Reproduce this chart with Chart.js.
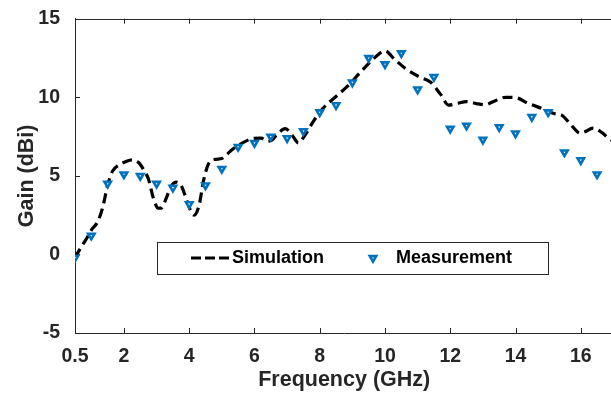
<!DOCTYPE html>
<html>
<head>
<meta charset="utf-8">
<title>Gain vs Frequency</title>
<script src="https://cdn.jsdelivr.net/npm/chart.js@4.4.1/dist/chart.umd.min.js"></script>
<style>
  html, body { margin: 0; padding: 0; background: #fff; overflow: hidden; }
  #wrap { width: 620px; height: 396px; }
</style>
</head>
<body>
<div id="wrap"><canvas id="gainChart" width="620" height="396"></canvas></div>
<script>
// axis ticks
const xTicks = [0.5, 2, 4, 6, 8, 10, 12, 14, 16];
const yTicks = [-5, 0, 5, 10, 15];

// measured gain, every 0.5 GHz
const measFreq = [0.5, 1, 1.5, 2, 2.5, 3, 3.5, 4, 4.5, 5, 5.5, 6, 6.5, 7, 7.5, 8, 8.5,
                  9, 9.5, 10, 10.5, 11, 11.5, 12, 12.5, 13, 13.5, 14, 14.5, 15, 15.5, 16, 16.5];
const measGain = [-0.2, 1.2, 4.5, 5.1, 5.0, 4.5, 4.25, 3.2, 4.4, 5.45, 6.85, 7.1, 7.5, 7.4, 7.85, 9.05, 9.5,
                  10.95, 12.5, 12.1, 12.8, 10.5, 11.3, 8.0, 8.2, 7.3, 8.1, 7.7, 8.75, 9.05, 6.5, 6.0, 5.1];

// simulated gain
const simFreq = [0.5, 0.7, 0.85, 1.0, 1.2, 1.35, 1.5, 1.65, 1.85, 2.05, 2.25, 2.45, 2.6, 2.75, 2.9,
                 3.05, 3.15, 3.3, 3.45, 3.6, 3.75, 3.9, 4.05, 4.15, 4.3, 4.45, 4.6, 4.8, 5.0, 5.15,
                 5.3, 5.6, 5.9, 6.2, 6.4, 6.55, 6.7, 6.95, 7.15, 7.35, 7.55, 7.8, 8.1, 8.5, 8.9,
                 9.25, 9.65, 10.0, 10.3, 10.65, 11.05, 11.4, 11.7, 11.95, 12.2, 12.5, 12.8, 13.05,
                 13.4, 13.7, 14.0, 14.4, 14.8, 15.2, 15.4, 15.7, 15.98, 16.1, 16.38, 16.65, 16.85, 17.0];
const simGain = [-0.2, 0.5, 1.0, 1.55, 2.1, 3.0, 4.4, 5.3, 5.7, 5.9, 6.02, 5.85, 5.4, 4.8, 3.6,
                 2.95, 2.95, 3.6, 4.35, 4.6, 4.4, 3.6, 2.75, 2.5, 3.1, 4.8, 5.8, 6.05, 6.1, 6.35,
                 6.65, 7.05, 7.35, 7.4, 7.2, 7.3, 7.65, 8.0, 7.6, 7.1, 7.6, 8.45, 9.3, 10.05, 10.8,
                 11.6, 12.45, 12.95, 12.4, 11.8, 11.3, 10.95, 10.2, 9.5, 9.6, 9.72, 9.6, 9.53,
                 9.8, 10.0, 9.98, 9.6, 9.3, 8.95, 8.88, 8.25, 7.72, 7.78, 8.04, 7.75, 7.4, 7.2];

const FONT = '"Liberation Sans", Arial, Helvetica, sans-serif';
const axisColor = '#262626';

// MATLAB-style box: top edge plus inward tick marks
const boxTicks = {
    id: 'boxTicks',
    beforeDatasetsDraw(chart) {
        const { ctx, chartArea: a, scales: { x, y } } = chart;
        const len = 5;
        ctx.save();
        ctx.strokeStyle = axisColor;
        ctx.lineWidth = 1;
        ctx.beginPath();
        ctx.moveTo(a.left, Math.round(a.top) + 0.5);
        ctx.lineTo(a.right, Math.round(a.top) + 0.5);
        x.ticks.forEach(t => {
            const px = Math.round(x.getPixelForValue(t.value)) + 0.5;
            ctx.moveTo(px, a.bottom);
            ctx.lineTo(px, a.bottom - len);
            ctx.moveTo(px, a.top);
            ctx.lineTo(px, a.top + len);
        });
        y.ticks.forEach(t => {
            const py = Math.round(y.getPixelForValue(t.value)) + 0.5;
            ctx.moveTo(a.left, py);
            ctx.lineTo(a.left + len, py);
        });
        ctx.stroke();
        ctx.restore();
    }
};

// boxed legend inside the axes
const legendBox = {
    id: 'legendBox',
    afterDatasetsDraw(chart, args, opts) {
        const { ctx } = chart;
        const sim = chart.data.datasets[0];
        const meas = chart.data.datasets[1];
        const cy = opts.top + opts.height / 2;
        ctx.save();
        ctx.fillStyle = '#fff';
        ctx.fillRect(opts.left, opts.top, opts.width, opts.height);
        ctx.strokeStyle = axisColor;
        ctx.lineWidth = 1;
        ctx.strokeRect(opts.left + 0.5, opts.top + 0.5, opts.width, opts.height);

        ctx.strokeStyle = sim.borderColor;
        ctx.lineWidth = sim.borderWidth;
        ctx.setLineDash([10, 4]);
        ctx.beginPath();
        ctx.moveTo(opts.lineX1, cy);
        ctx.lineTo(opts.lineX2, cy);
        ctx.stroke();
        ctx.setLineDash([]);

        ctx.fillStyle = meas.pointBackgroundColor;
        ctx.strokeStyle = meas.pointBorderColor;
        ctx.lineWidth = meas.pointBorderWidth;
        Chart.helpers.drawPoint(ctx, {
            pointStyle: meas.pointStyle,
            rotation: meas.pointRotation,
            radius: meas.pointRadius,
            borderWidth: meas.pointBorderWidth
        }, opts.markX, cy);

        ctx.fillStyle = '#000';
        ctx.font = 'bold 18px ' + FONT;
        ctx.textBaseline = 'middle';
        ctx.textAlign = 'left';
        ctx.fillText(sim.label, opts.simTextX, cy);
        ctx.fillText(meas.label, opts.measTextX, cy);
        ctx.restore();
    }
};

const ctx = document.getElementById('gainChart').getContext('2d');
const gainChart = new Chart(ctx, {
    type: 'scatter',
    data: {
        datasets: [
            {
                label: 'Simulation',
                data: simFreq.map((f, i) => ({ x: f, y: simGain[i] })),
                showLine: true,
                borderColor: '#000',
                borderWidth: 3.2,
                borderDash: [10, 5.5],
                cubicInterpolationMode: 'monotone',
                pointRadius: 0,
                fill: false,
                order: 1
            },
            {
                label: 'Measurement',
                data: measFreq.map((f, i) => ({ x: f, y: measGain[i] })),
                showLine: false,
                pointStyle: 'triangle',
                pointRotation: 180,
                pointRadius: 3.7,
                pointBorderWidth: 2.6,
                pointBorderColor: '#0072BD',
                pointBackgroundColor: '#fff',
                order: 0
            }
        ]
    },
    options: {
        responsive: false,
        animation: false,
        layout: { padding: { left: 0, top: 16, right: 1, bottom: 0 } },
        plugins: {
            legend: { display: false },
            tooltip: { enabled: false },
            legendBox: {
                left: 157, top: 242, width: 391, height: 32,
                lineX1: 191, lineX2: 229, simTextX: 232,
                markX: 373, measTextX: 396
            }
        },
        scales: {
            x: {
                type: 'linear',
                min: 0.5,
                max: 17,
                afterBuildTicks: scale => { scale.ticks = xTicks.map(v => ({ value: v })); },
                afterFit: scale => { scale.height = 63; },
                grid: { display: false },
                border: { display: true, color: axisColor, width: 1 },
                ticks: {
                    autoSkip: false,
                    maxRotation: 0,
                    padding: 4,
                    color: axisColor,
                    font: { family: FONT, size: 19.5, weight: 'bold' }
                },
                title: {
                    display: true,
                    text: 'Frequency (GHz)',
                    color: axisColor,
                    padding: { top: 0, bottom: 3 },
                    font: { family: FONT, size: 21.5, weight: 'bold' }
                }
            },
            y: {
                min: -5,
                max: 15,
                afterBuildTicks: scale => { scale.ticks = yTicks.map(v => ({ value: v })); },
                afterFit: scale => { scale.width = 75; },
                grid: { display: false },
                border: { display: true, color: axisColor, width: 1 },
                ticks: {
                    padding: 7,
                    color: axisColor,
                    font: { family: FONT, size: 19.5, weight: 'bold' }
                },
                title: {
                    display: true,
                    text: 'Gain (dBi)',
                    color: axisColor,
                    padding: { top: 14, bottom: 0 },
                    font: { family: FONT, size: 21.5, weight: 'bold' }
                }
            }
        }
    },
    plugins: [boxTicks, legendBox]
});
</script>
</body>
</html>
